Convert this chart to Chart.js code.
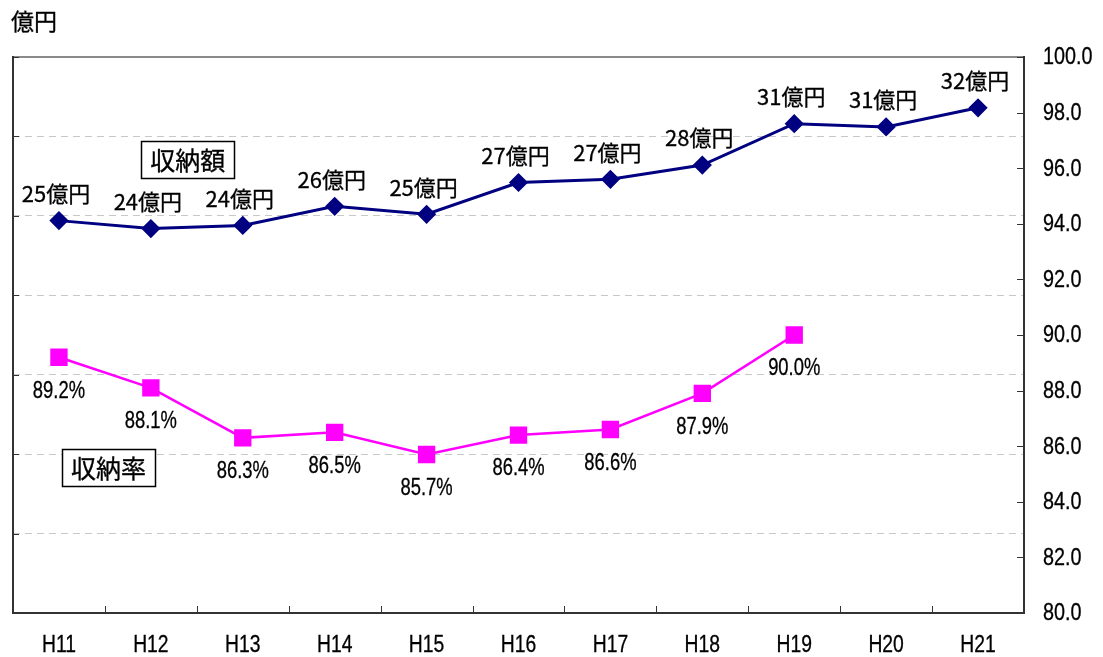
<!DOCTYPE html>
<html>
<head>
<meta charset="utf-8">
<script src="https://cdn.jsdelivr.net/npm/chart.js@4.4.0/dist/chart.umd.min.js"></script>
<style>
  html, body { margin: 0; padding: 0; background: #fff; }
  #wrap { width: 1103px; height: 657px; }
</style>
</head>
<body>
<div id="wrap"><canvas id="chart" width="1103" height="657"></canvas></div>
<script>
"use strict";

// --- data ---
const years = ['H11', 'H12', 'H13', 'H14', 'H15', 'H16', 'H17', 'H18', 'H19', 'H20', 'H21'];
const amountOku = [24.7, 24.2, 24.4, 25.6, 25.1, 27.1, 27.3, 28.2, 30.8, 30.6, 31.8];   // 収納額 (億円)
const amountLabels = ['25億円', '24億円', '24億円', '26億円', '25億円', '27億円', '27億円', '28億円', '31億円', '31億円', '32億円'];
const collectRate = [89.2, 88.1, 86.3, 86.5, 85.7, 86.4, 86.6, 87.9, 90.0, null, null]; // 収納率 (%)

const SANS = '"Liberation Sans", Arial, sans-serif';
const JP = '"Noto Sans CJK JP", sans-serif';

const NAVY = '#000080';
const PINK = '#ff00ff';

// series name boxes, placed in data space (category index, rate value)
const seriesBoxes = [
  { text: '収納額', xi: 1.4, rate: 96.33 },
  { text: '収納率', xi: 0.54, rate: 85.22 }
];

function line(ctx, x1, y1, x2, y2) {
  ctx.beginPath();
  ctx.moveTo(x1, y1);
  ctx.lineTo(x2, y2);
  ctx.stroke();
}

// the original text is a heavy bitmap-ish face, so thicken it slightly
function heavyText(ctx, text, x, y) {
  ctx.fillText(text, x, y);
  ctx.strokeText(text, x, y);
}

// the original uses a tall narrow face, so squeeze the latin text a bit
function narrowText(ctx, text, x, y, align, sx) {
  ctx.save();
  ctx.translate(x, y);
  ctx.scale(sx, 1);
  ctx.textAlign = align;
  heavyText(ctx, text, 0, 0);
  ctx.restore();
}

const decorPlugin = {
  id: 'decor',
  afterDatasetsDraw(chart) {
    const { ctx, chartArea: a, scales } = chart;
    ctx.save();

    // plot frame
    ctx.lineWidth = 2;
    ctx.strokeStyle = '#8a8a8a';
    line(ctx, a.left, a.top, a.right, a.top);
    ctx.strokeStyle = '#333';
    line(ctx, a.left, a.top - 1, a.left, a.bottom + 1);
    line(ctx, a.left - 1, a.bottom, a.right + 1, a.bottom);
    line(ctx, a.right, a.top - 1, a.right, a.bottom + 1);

    // inner tick marks
    ctx.lineWidth = 1;
    ctx.strokeStyle = '#333';
    scales.yAmt.ticks.forEach(t => {
      const y = Math.round(scales.yAmt.getPixelForValue(t.value)) + 0.5;
      line(ctx, a.left, y, a.left + 6, y);
    });
    scales.yRate.ticks.forEach(t => {
      const y = Math.round(scales.yRate.getPixelForValue(t.value)) + 0.5;
      line(ctx, a.right - 7, y, a.right, y);
    });
    for (let i = 1; i < years.length; i++) {
      const x = Math.round(scales.x.getPixelForValue(i - 0.5)) + 0.5;
      line(ctx, x, a.bottom, x, a.bottom - 7);
    }

    ctx.fillStyle = '#000';
    ctx.strokeStyle = '#000';
    ctx.lineWidth = 0.3;
    ctx.textBaseline = 'middle';

    // axis tick labels
    ctx.font = '23px ' + SANS;
    scales.yRate.ticks.forEach(t => {
      const y = scales.yRate.getPixelForValue(t.value);
      narrowText(ctx, Number(t.value).toFixed(1), a.right + 19, y + 1, 'left', 0.86);
    });
    scales.x.ticks.forEach(t => {
      const x = scales.x.getPixelForValue(t.value);
      narrowText(ctx, scales.x.getLabelForValue(t.value), x, a.bottom + 33, 'center', 0.84);
    });

    // unit label
    ctx.font = '23px ' + JP;
    ctx.textAlign = 'left';
    heavyText(ctx, '億円', 11, 21);

    // data labels
    ctx.textAlign = 'center';
    const amtMeta = chart.getDatasetMeta(0);
    ctx.font = '22px ' + JP;
    amtMeta.data.forEach((pt, i) => {
      heavyText(ctx, amountLabels[i], pt.x - 3, pt.y - 27);
    });
    const rateMeta = chart.getDatasetMeta(1);
    ctx.font = '23px ' + SANS;
    rateMeta.data.forEach((pt, i) => {
      if (collectRate[i] == null) return;
      narrowText(ctx, collectRate[i].toFixed(1) + '%', pt.x, pt.y + 34, 'center', 0.8);
    });

    // series name boxes
    ctx.font = '25px ' + JP;
    ctx.textAlign = 'center';
    seriesBoxes.forEach(b => {
      const cx = scales.x.getPixelForValue(b.xi);
      const cy = scales.yRate.getPixelForValue(b.rate);
      const w = ctx.measureText(b.text).width + 18;
      const h = 37;
      ctx.fillStyle = '#fff';
      ctx.fillRect(cx - w / 2, cy - h / 2, w, h);
      ctx.lineWidth = 1.5;
      ctx.strokeStyle = '#000';
      ctx.strokeRect(Math.round(cx - w / 2) + 0.5, Math.round(cy - h / 2) + 0.5, Math.round(w), h);
      ctx.fillStyle = '#000';
      ctx.lineWidth = 0.3;
      heavyText(ctx, b.text, cx, cy + 1);
    });

    ctx.restore();
  }
};

new Chart(document.getElementById('chart'), {
  type: 'line',
  data: {
    labels: years,
    datasets: [
      {
        label: '収納額',
        data: amountOku,
        yAxisID: 'yAmt',
        borderColor: NAVY,
        backgroundColor: NAVY,
        borderWidth: 3,
        pointStyle: 'rectRot',
        pointRadius: 7.5,
        pointHoverRadius: 7.5,
        tension: 0
      },
      {
        label: '収納率',
        data: collectRate,
        yAxisID: 'yRate',
        borderColor: PINK,
        backgroundColor: PINK,
        borderWidth: 2.5,
        pointStyle: 'rect',
        pointRadius: 10.5,
        pointHoverRadius: 10.5,
        tension: 0,
        spanGaps: false
      }
    ]
  },
  options: {
    responsive: false,
    animation: false,
    devicePixelRatio: 1,
    layout: { padding: { top: 57, left: 0, right: 0, bottom: 0 } },
    plugins: {
      legend: { display: false },
      tooltip: { enabled: false },
      title: { display: false }
    },
    scales: {
      x: {
        type: 'category',
        offset: true,
        grid: { display: false, drawTicks: false },
        border: { display: false },
        ticks: { display: false },
        afterFit(scale) { scale.height = 44; }
      },
      yAmt: {
        position: 'left',
        min: 0,
        max: 35,
        ticks: { stepSize: 5, display: false },
        grid: { color: '#c8c8c8', lineWidth: 1, drawTicks: false },
        border: { display: false, dash: [7, 5] },
        afterFit(scale) { scale.width = 10; }
      },
      yRate: {
        position: 'right',
        min: 80,
        max: 100,
        ticks: { stepSize: 2, display: false },
        grid: { display: false, drawTicks: false },
        border: { display: false },
        afterFit(scale) { scale.width = 79; }
      }
    }
  },
  plugins: [decorPlugin]
});
</script>
</body>
</html>
